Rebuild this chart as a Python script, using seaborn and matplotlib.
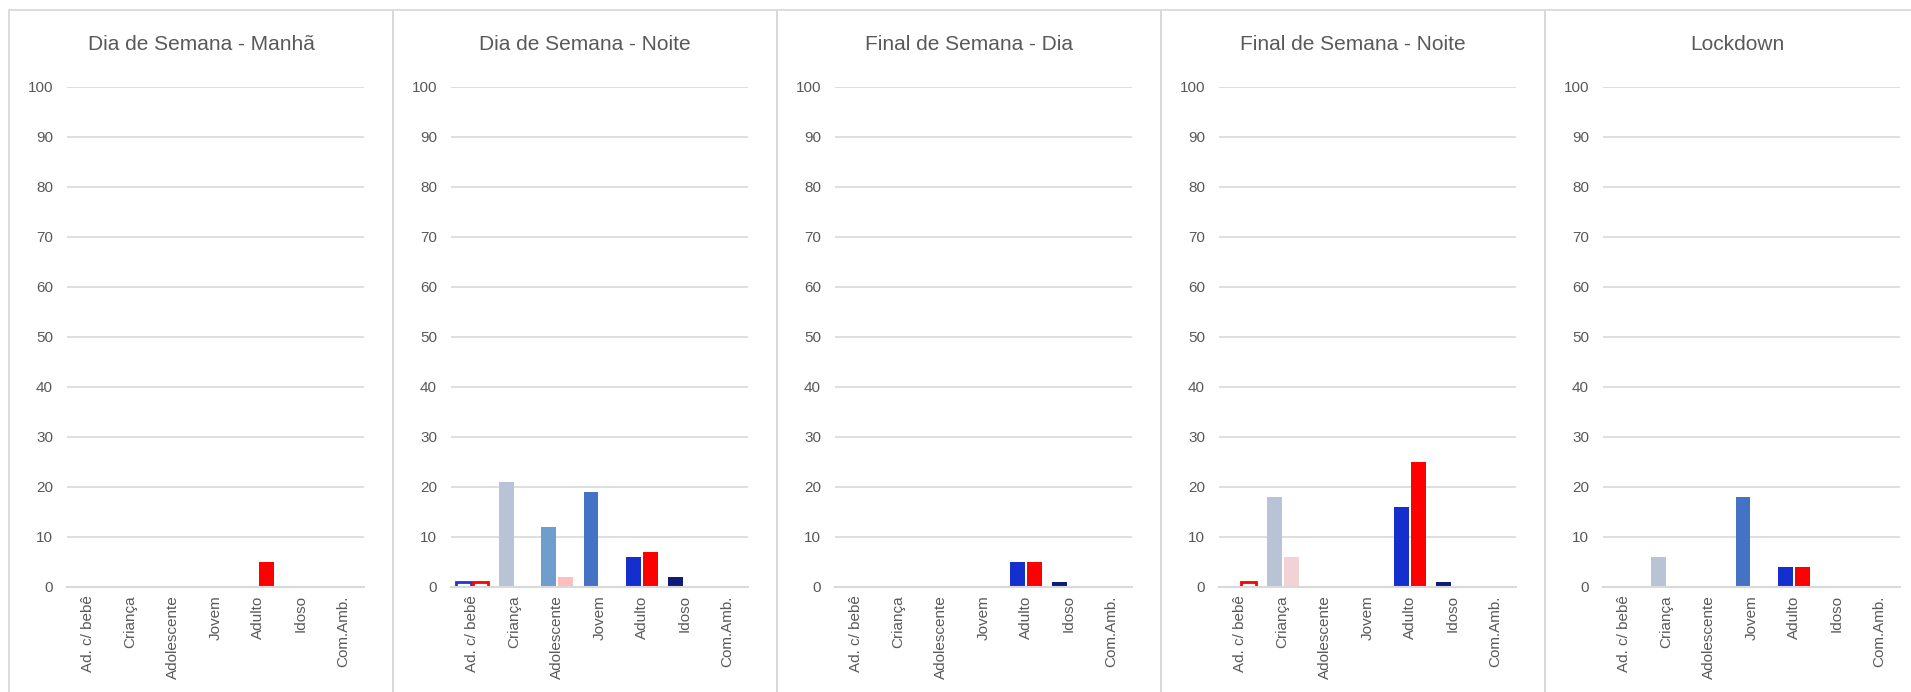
import matplotlib
matplotlib.use("Agg")
import matplotlib.pyplot as plt
from matplotlib.patches import Rectangle
import seaborn as sns
import pandas as pd

# categories and panels
categorias = ["Ad. c/ bebê", "Criança", "Adolescente", "Jovem", "Adulto", "Idoso", "Com.Amb."]
titulos = ["Dia de Semana - Manhã", "Dia de Semana - Noite", "Final de Semana - Dia",
           "Final de Semana - Noite", "Lockdown"]

# values (male, female) per panel
masc_manha = [0, 0, 0, 0, 0, 0, 0]
fem_manha = [0, 0, 0, 0, 5, 0, 0]
masc_noite = [1, 21, 12, 19, 6, 2, 0]
fem_noite = [1, 0, 2, 0, 7, 0, 0]
masc_fds_dia = [0, 0, 0, 0, 5, 1, 0]
fem_fds_dia = [0, 0, 0, 0, 5, 0, 0]
masc_fds_noite = [0, 18, 0, 0, 16, 1, 0]
fem_fds_noite = [1, 6, 0, 0, 25, 0, 0]
masc_lockdown = [0, 6, 0, 18, 4, 0, 0]
fem_lockdown = [0, 0, 0, 0, 4, 0, 0]

masc = [masc_manha, masc_noite, masc_fds_dia, masc_fds_noite, masc_lockdown]
fem = [fem_manha, fem_noite, fem_fds_dia, fem_fds_noite, fem_lockdown]

# colours per category
cor_masc = ["#1F35D0", "#B8C4D6", "#6F9DCE", "#4472C4", "#152FCF", "#0E1C78", "#7F7F7F"]
cor_fem = ["#FF0000", "#F2D2D4", "#FFBDBD", "#F4A6A6", "#FF0000", "#C00000", "#BFBFBF"]

TXT = "#595959"
GRID = "#D9D9D9"

sns.set_theme(style="white")
plt.rcParams["font.family"] = ["Liberation Sans", "DejaVu Sans"]

W, H = 1911, 692
fig = plt.figure(figsize=(W / 100, H / 100), dpi=100)

panel_w = 384
panel_x0 = 9
for i, titulo in enumerate(titulos):
    px = panel_x0 + i * panel_w
    # panel frame
    fig.patches.append(Rectangle((px / W, -0.1), panel_w / W, (H - 10) / H + 0.1,
                                 transform=fig.transFigure, fill=False,
                                 edgecolor=GRID, linewidth=1.3, zorder=0))
    fig.text((px + panel_w / 2) / W, 1 - 45 / H, titulo, ha="center", va="center",
             fontsize=15, color=TXT)

    ax = fig.add_axes([(px + 58) / W, 1 - 587 / H, 297 / W, 500 / H])
    df = pd.DataFrame({
        "categoria": categorias * 2,
        "valor": masc[i] + fem[i],
        "sexo": ["M"] * len(categorias) + ["F"] * len(categorias),
    })
    sns.barplot(data=df, x="categoria", y="valor", hue="sexo", order=categorias,
                hue_order=["M", "F"], width=0.8, gap=0.12, legend=False, ax=ax)

    for cont, cores in zip(ax.containers, [cor_masc, cor_fem]):
        for j, bar in enumerate(cont):
            if bar.get_height() == 0:
                bar.set_visible(False)
                continue
            if j == 0:
                bar.set_facecolor("white")
                bar.set_edgecolor(cores[j])
                bar.set_linewidth(2)
            else:
                bar.set_facecolor(cores[j])
                bar.set_edgecolor("none")

    ax.set_ylim(0, 100)
    ax.set_yticks(range(0, 101, 10))
    ax.set_xlim(-0.5, len(categorias) - 0.5)
    ax.grid(axis="y", color=GRID, linewidth=1.2)
    ax.set_axisbelow(True)
    for s in ["top", "right", "left"]:
        ax.spines[s].set_visible(False)
    ax.spines["bottom"].set_color(GRID)
    ax.spines["bottom"].set_linewidth(1.5)
    ax.set_xlabel("")
    ax.set_ylabel("")
    ax.tick_params(axis="y", length=0, pad=10, labelsize=11, labelcolor=TXT)
    ax.tick_params(axis="x", length=0, pad=6, labelsize=11, labelcolor=TXT)
    plt.setp(ax.get_xticklabels(), rotation=90, va="top", ha="center")
    ax.patch.set_alpha(0)

fig.savefig("out.png", dpi=100, facecolor="white")
